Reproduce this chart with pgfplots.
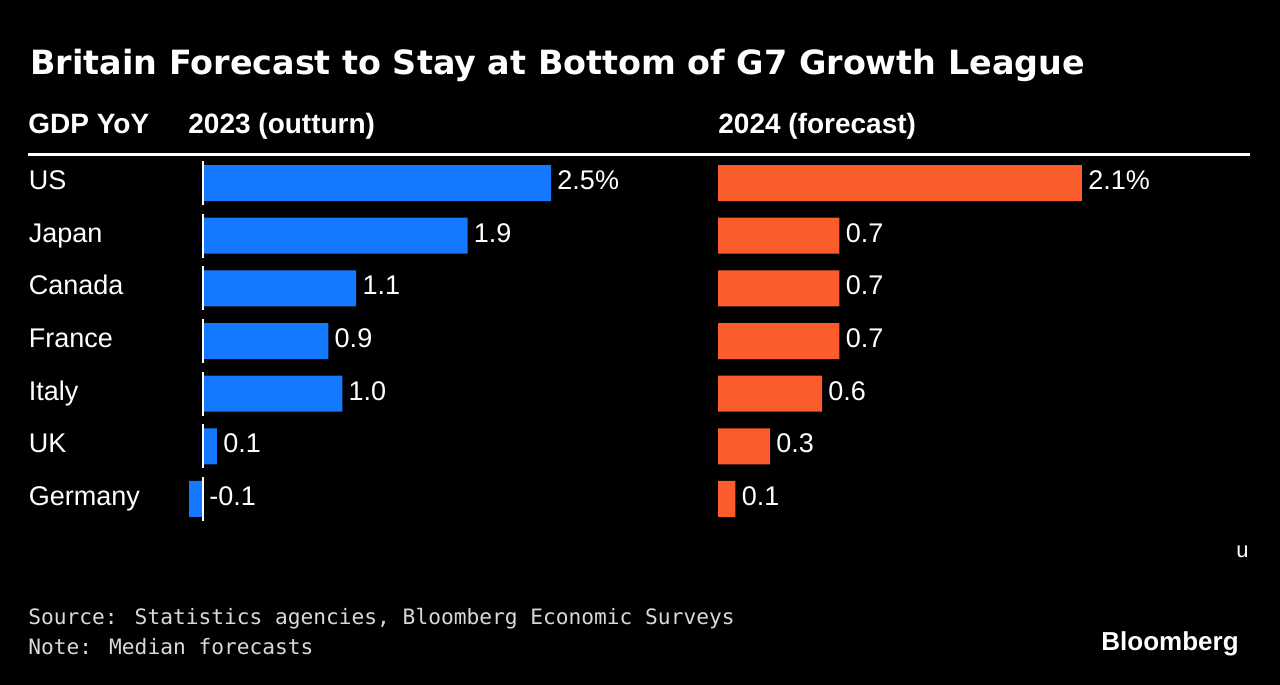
\documentclass[border=0pt]{standalone}
\usepackage{pgfplots}
\pgfplotsset{compat=1.18}
\usepackage{fontspec}
\setmainfont{Liberation Sans}
\newfontfamily\titlefont{DejaVu Sans}
\newfontfamily\notefont{DejaVu Sans Mono}
\definecolor{bblue}{HTML}{1479FF}
\definecolor{borange}{HTML}{FA5C2C}
\newcommand\px[2]{({#1*0.5pt},{-#2*0.5pt})}
\begin{document}
\begin{tikzpicture}
\fill[black] \px{0}{0} rectangle \px{1280}{685};
% title and headers
\node[anchor=base west,inner sep=0,text=white,font=\titlefont\bfseries\fontsize{16.7}{19}\selectfont] at \px{30}{74} {Britain Forecast to Stay at Bottom of G7 Growth League};
\node[anchor=base west,inner sep=0,text=white,font=\bfseries\fontsize{14}{16}\selectfont] at \px{28}{133} {GDP YoY};
\node[anchor=base west,inner sep=0,text=white,font=\bfseries\fontsize{14}{16}\selectfont] at \px{188}{133} {2023 (outturn)};
\node[anchor=base west,inner sep=0,text=white,font=\bfseries\fontsize{14}{16}\selectfont] at \px{718}{133} {2024 (forecast)};
\draw[white,line width=1.5pt] \px{28}{154} -- \px{1250}{154};
% 2023 panel
\begin{axis}[
  at={(87.6pt,-78.335pt)}, anchor=north west,
  scale only axis, width=194.9pt, height=184.33pt,
  xmin=-0.2, xmax=2.6, ymin=-0.5, ymax=6.5, y dir=reverse,
  clip=false,
  axis line style={draw=none},
  xtick=\empty,
  ytick={0,...,6},
  yticklabels={US,Japan,Canada,France,Italy,UK,Germany},
  major tick length=0pt,
  tick style={draw=none},
  yticklabel style={anchor=east,text width=73pt,align=left,inner sep=0pt,text=white,
     font=\fontsize{13.5}{15}\selectfont,text height=1.5ex,text depth=0.3ex},
]
\addplot[xbar,bar shift=0pt,bar width=18pt,fill=bblue,draw=none] coordinates {(2.5,0) (1.9,1) (1.1,2) (0.9,3) (1.0,4) (0.1,5) (-0.1,6)};
\addplot[white,line width=1pt,unbounded coords=jump,mark=none] coordinates {
 (0,-0.42) (0,0.42) (nan,nan) (0,0.58) (0,1.42) (nan,nan) (0,1.58) (0,2.42) (nan,nan)
 (0,2.58) (0,3.42) (nan,nan) (0,3.58) (0,4.42) (nan,nan) (0,4.58) (0,5.42) (nan,nan) (0,5.58) (0,6.42)};
\addplot[draw=none,mark=none,nodes near coords,point meta=explicit symbolic,
  nodes near coords style={anchor=west,text=white,inner sep=0pt,xshift=3pt,
  font=\fontsize{13.5}{15}\selectfont,text height=1.5ex,text depth=0.3ex}]
 table[meta=lab] {
x y lab
2.5 0 2.5\%
1.9 1 1.9
1.1 2 1.1
0.9 3 0.9
1.0 4 1.0
0.1 5 0.1
0.0 6 -0.1
};
\end{axis}
% 2024 panel
\begin{axis}[
  at={(350.35pt,-78.335pt)}, anchor=north west,
  scale only axis, width=225.3pt, height=184.33pt,
  xmin=-0.1, xmax=2.5, ymin=-0.5, ymax=6.5, y dir=reverse,
  clip=false, hide axis,
]
\addplot[xbar,bar shift=0pt,bar width=18pt,fill=borange,draw=none] coordinates {(2.1,0) (0.7,1) (0.7,2) (0.7,3) (0.6,4) (0.3,5) (0.1,6)};
\addplot[draw=none,mark=none,nodes near coords,point meta=explicit symbolic,
  nodes near coords style={anchor=west,text=white,inner sep=0pt,xshift=3pt,
  font=\fontsize{13.5}{15}\selectfont,text height=1.5ex,text depth=0.3ex}]
 table[meta=lab] {
x y lab
2.1 0 2.1\%
0.7 1 0.7
0.7 2 0.7
0.7 3 0.7
0.6 4 0.6
0.3 5 0.3
0.1 6 0.1
};
\end{axis}
% footer
\node[anchor=base west,inner sep=0,text=white,font=\fontsize{11}{13}\selectfont] at \px{1236}{557} {u};
\node[anchor=base west,inner sep=0,text=white!85!black,font=\notefont\fontsize{10.6}{12}\selectfont] at \px{28}{624} {Source: Statistics agencies, Bloomberg Economic Surveys};
\node[anchor=base west,inner sep=0,text=white!85!black,font=\notefont\fontsize{10.6}{12}\selectfont] at \px{28}{654} {Note: Median forecasts};
\node[anchor=base west,inner sep=0,text=white,font=\bfseries\fontsize{13}{15}\selectfont] at \px{1101}{650} {Bloomberg};
\end{tikzpicture}
\end{document}
